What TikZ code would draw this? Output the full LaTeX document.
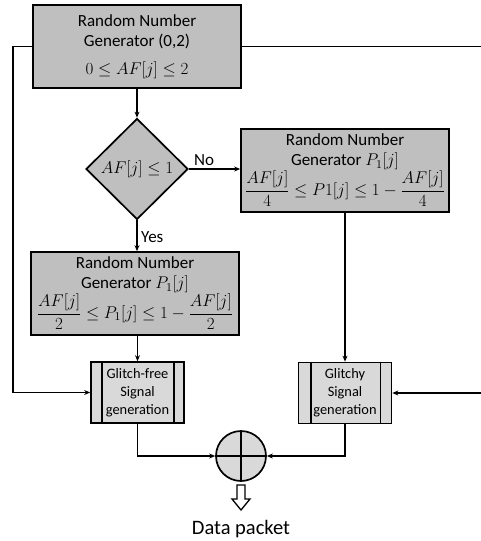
\RequirePackage{fix-cm}
\documentclass[tikz,border=0pt]{standalone}
\usepackage{amsmath}
\usepackage{fontspec}
\setmainfont{Carlito}
\usetikzlibrary{shapes.geometric,arrows.meta}
\definecolor{boxgray}{RGB}{191,191,191}
\definecolor{lightbox}{RGB}{217,217,217}
\begin{document}
\begin{tikzpicture}[x=1pt,y=-1pt,
  line/.style={line width=1.5pt},
  arr/.style={line,-{Stealth[length=6pt,width=5pt]}},
  box/.style={draw,line width=1.7pt,fill=boxgray,minimum width=208pt,minimum height=83pt,inner sep=0pt,align=center,font=\fontsize{17}{20}\selectfont},
  gbox/.style={draw,line width=1.7pt,fill=lightbox,minimum width=93pt,minimum height=61pt,inner sep=0pt,align=center,font=\fontsize{14.4}{18}\selectfont},
  lbl/.style={font=\fontsize{17}{20}\selectfont,inner sep=0pt}
]
\useasboundingbox (0,0) rectangle (480,541);

\node[box] (rng0) at (137,46.5) {Random Number\\Generator (0,2)\\[8pt]$0\le AF[j]\le 2$};
\node[diamond,draw,line width=1.7pt,fill=boxgray,minimum width=102pt,minimum height=101pt,inner sep=0pt,font=\fontsize{17}{20}\selectfont] (dec) at (137,169) {$AF[j]\le 1$};
\node[box] (rngR) at (345,170.5) {Random Number\\Generator $P_1[j]$\\[0pt]$\displaystyle\frac{AF[j]}{4}\le P1[j]\le 1-\frac{AF[j]}{4}$};
\node[box] (rngL) at (135,293.5) {Random Number\\Generator $P_1[j]$\\[0pt]$\displaystyle\frac{AF[j]}{2}\le P_1[j]\le 1-\frac{AF[j]}{2}$};
\node[gbox] (gf) at (137.5,392.5) {Glitch-free\\Signal\\generation};
\node[gbox] (gl) at (345,393) {Glitchy\\Signal\\generation};
\draw[line width=1.7pt] ([xshift=12pt]gf.north west) -- ([xshift=12pt]gf.south west);
\draw[line width=1.7pt] ([xshift=-11pt]gf.north east) -- ([xshift=-11pt]gf.south east);
\draw[line width=1.7pt] ([xshift=13pt]gl.north west) -- ([xshift=13pt]gl.south west);
\draw[line width=1.7pt] ([xshift=-12pt]gl.north east) -- ([xshift=-12pt]gl.south east);
\node[circle,draw,line width=1.7pt,fill=lightbox,minimum size=50pt,inner sep=0pt] (sum) at (241,456) {};
\draw[line width=1.7pt] (sum.north) -- (sum.south);
\draw[line width=1.7pt] (sum.west) -- (sum.east);

\coordinate (cR) at (484,46.5);
\draw[arr] (rng0.south) -- (dec.north);
\draw[arr] (dec.east) -- (dec.east -| rngR.west);
\node[lbl,anchor=south west] at ([xshift=5pt,yshift=3pt]dec.east) {No};
\draw[arr] (dec.south) -- (dec.south |- rngL.north);
\node[lbl,anchor=west] at ([xshift=4pt]dec.south |- 0,237) {Yes};
\draw[arr] (gf.north |- rngL.south) -- (gf.north);
\draw[arr] (rngR.south) -- (gl.north);
\draw[arr] (rng0.west) -- ++(-19,0) |- (gf.west);
\draw[line] (rng0.east) -- (cR);
\draw[arr] (cR) |- (gl.east);
\draw[arr] (gf.south) |- (sum.west);
\draw[arr] (gl.south) |- (sum.east);

\draw[line width=1.3pt,fill=white,line join=miter] (237,485) -- (245,485) -- (245,499) -- (250,499) -- (241,510) -- (232,499) -- (237,499) -- cycle;
\node[font=\fontsize{20.5}{24}\selectfont,inner sep=0pt] (dp) at (241,529) {Data packet};
\end{tikzpicture}
\end{document}
